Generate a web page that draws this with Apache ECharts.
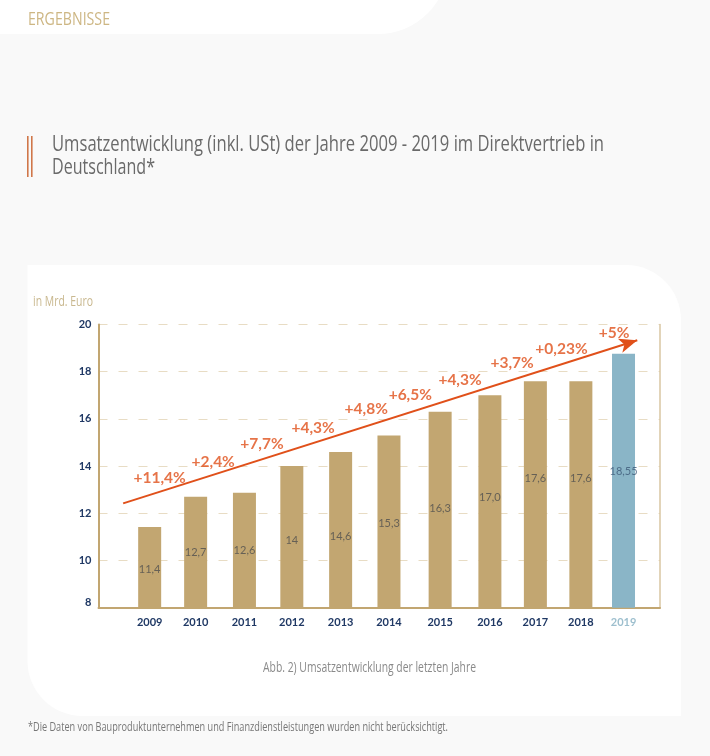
<!DOCTYPE html>
<html>
<head>
<meta charset="utf-8">
<title>Umsatzentwicklung</title>
<style>
  html, body { margin: 0; padding: 0; background: #f9f9f9; }
  #chart { width: 710px; height: 756px; }
</style>
<script src="https://cdn.jsdelivr.net/npm/echarts@6/dist/echarts.min.js"></script>
</head>
<body>
<div id="chart"></div>
<script>
const years = ['2009', '2010', '2011', '2012', '2013', '2014', '2015', '2016', '2017', '2018', '2019'];
// bars are not evenly spaced in the source, so x runs on a value axis
const yearSlots = [2009, 2009.97, 2011, 2012, 2013.03, 2014.05, 2015.13, 2016.18, 2017.14, 2018.1, 2019];
const barValues = [11.42, 12.7, 12.87, 14, 14.6, 15.3, 16.3, 17, 17.6, 17.6, 18.76];
const barLabels = ['11,4', '12,7', '12,6', '14', '14,6', '15,3', '16,3', '17,0', '17,6', '17,6', '18,55'];
const barLabelLevels = [9.64, 10.32, 10.44, 10.87, 11.04, 11.56, 12.19, 12.69, 13.47, 13.47, 13.79];
const growthLabels = ['+11,4%', '+2,4%', '+7,7%', '+4,3%', '+4,8%', '+6,5%', '+4,3%', '+3,7%', '+0,23%', '+5%'];
const growthSlots = [2009.21, 2010.34, 2011.37, 2012.45, 2013.57, 2014.5, 2015.55, 2016.65, 2017.69, 2018.8];
const growthLevels = [13.51, 14.16, 14.94, 15.6, 16.41, 17.03, 17.64, 18.37, 18.95, 19.62];
const arrowStart = [2008.44, 12.42];
const arrowEnd = [2019.29, 19.33];

const PAGE_FONT = '"Open Sans", sans-serif';
const CHART_FONT = 'Lato, "Open Sans", sans-serif';
const GOLD = '#c2a671';
const BLUE = '#8ab5c7';
const NAVY = '#1f3864';
const ORANGE = '#e0501a';

const measure = document.createElement('canvas').getContext('2d');

// the source uses a condensed face, so squeeze page text to its measured width
function pageText(text, x, y, size, fill, targetWidth) {
  measure.font = size + 'px ' + PAGE_FONT;
  return {
    type: 'text',
    z: 1,
    x,
    y,
    scaleX: targetWidth / measure.measureText(text).width,
    style: { text, fontFamily: PAGE_FONT, fontSize: size, fill, textVerticalAlign: 'middle' }
  };
}

const chart = echarts.init(document.getElementById('chart'));
chart.setOption({
  animation: false,
  backgroundColor: '#f9f9f9',
  graphic: [
    { type: 'rect', z: -1, shape: { x: -10, y: -60, width: 458, height: 94, r: [0, 0, 70, 0] }, style: { fill: '#fff' } },
    { type: 'rect', z: -1, shape: { x: 27.5, y: 265, width: 653.5, height: 451, r: [0, 55, 0, 55] }, style: { fill: '#fff' } },
    { type: 'rect', z: 1, shape: { x: 27, y: 136, width: 1.6, height: 41 }, style: { fill: '#d0774a' } },
    { type: 'rect', z: 1, shape: { x: 31, y: 136, width: 1.6, height: 41 }, style: { fill: '#d0774a' } },
    pageText('ERGEBNISSE', 28, 20, 18, '#cdb683', 82),
    pageText('Umsatzentwicklung (inkl. USt) der Jahre 2009 - 2019 im Direktvertrieb in', 52, 145, 21, '#6a6a6a', 552),
    pageText('Deutschland*', 52, 168, 21, '#6a6a6a', 103),
    pageText('in Mrd. Euro', 33, 302, 14, '#c9b88f', 60),
    pageText('Abb. 2) Umsatzentwicklung der letzten Jahre', 263, 668, 14, '#8a8a8a', 213),
    pageText('*Die Daten von Bauproduktunternehmen und Finanzdienstleistungen wurden nicht berücksichtigt.', 28, 727, 13, '#777', 420)
  ],
  grid: { left: 98.5, right: 50, top: 324.5, bottom: 148.3, containLabel: false },
  xAxis: {
    type: 'value',
    min: 2007.92,
    max: 2019.77,
    splitLine: { show: false },
    axisTick: { show: false },
    axisLine: { show: true, onZero: false, lineStyle: { color: GOLD, width: 2 } },
    axisLabel: {
      customValues: yearSlots,
      margin: 9,
      fontFamily: CHART_FONT,
      fontSize: 11,
      fontWeight: 'bold',
      color: (v) => (yearSlots.indexOf(Number(v)) === years.length - 1 ? '#9dbfce' : NAVY),
      formatter: (v) => years[yearSlots.indexOf(v)]
    }
  },
  yAxis: [
    {
      type: 'value',
      min: 8,
      max: 20,
      interval: 2,
      axisTick: { show: false },
      axisLine: { show: true, onZero: false, lineStyle: { color: GOLD, width: 2 } },
      axisLabel: {
        margin: 7,
        fontFamily: CHART_FONT,
        fontSize: 11,
        fontWeight: 'bold',
        color: NAVY,
        verticalAlignMinLabel: 'bottom'
      },
      splitLine: { show: true, lineStyle: { color: '#e8dcc4', width: 1, type: [9, 11] } }
    },
    {
      type: 'value',
      position: 'right',
      min: 8,
      max: 20,
      interval: 2,
      axisTick: { show: false },
      axisLabel: { show: false },
      splitLine: { show: false },
      axisLine: { show: true, onZero: false, lineStyle: { color: '#d8c6a2', width: 1.5 } }
    }
  ],
  series: [
    {
      type: 'bar',
      barWidth: 23,
      data: barValues.map((v, i) => ({
        value: [yearSlots[i], v],
        itemStyle: { color: i === years.length - 1 ? BLUE : GOLD }
      }))
    },
    {
      // value captions sit at their own heights inside the bars
      type: 'scatter',
      symbolSize: 0,
      silent: true,
      z: 4,
      data: barLabels.map((t, i) => ({
        value: [yearSlots[i], barLabelLevels[i]],
        label: {
          show: true,
          position: 'inside',
          formatter: t,
          fontFamily: CHART_FONT,
          fontSize: 11,
          color: i === years.length - 1 ? '#3d5a78' : '#4f4f4f'
        }
      }))
    },
    {
      type: 'scatter',
      symbolSize: 0,
      silent: true,
      z: 5,
      data: growthLabels.map((t, i) => ({
        value: [growthSlots[i], growthLevels[i]],
        label: {
          show: true,
          position: 'inside',
          formatter: t,
          fontFamily: CHART_FONT,
          fontSize: 15.5,
          fontWeight: 'bold',
          color: ORANGE
        }
      })),
      markLine: {
        silent: true,
        symbol: ['none', 'arrow'],
        symbolSize: [11, 18],
        label: { show: false },
        lineStyle: { color: ORANGE, width: 2, type: 'solid' },
        data: [[{ coord: arrowStart }, { coord: arrowEnd }]]
      }
    }
  ]
});
</script>
</body>
</html>
